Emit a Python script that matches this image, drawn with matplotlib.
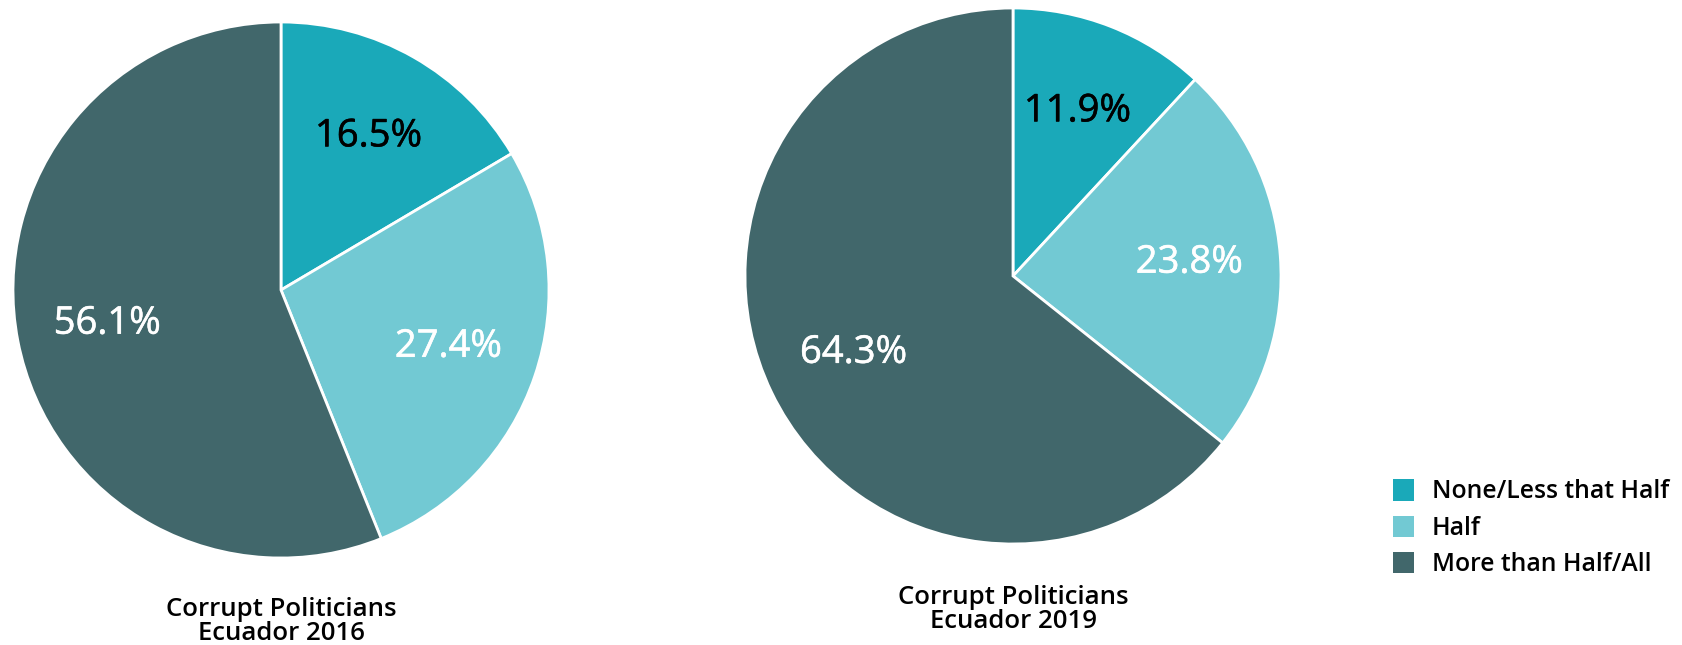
import matplotlib
matplotlib.use("Agg")
import matplotlib.pyplot as plt
import matplotlib.patheffects as pe
from matplotlib.patches import Patch

plt.rcParams['font.family'] = ['Open Sans', 'DejaVu Sans']

# Share of respondents by how many politicians they think are corrupt
categories = ['None/Less that Half', 'Half', 'More than Half/All']
values_2016 = [16.5, 27.4, 56.1]
values_2019 = [11.9, 23.8, 64.3]
titles = ['Corrupt Politicians\nEcuador 2016', 'Corrupt Politicians\nEcuador 2019']

colors = ['#1aa9b9', '#72c9d3', '#41676b']
label_colors = ['black', 'white', 'white']

W, H = 1682, 645
fig = plt.figure(figsize=(W / 100, H / 100), dpi=100)


def draw_pie(values, title, cx, cy, r, title_y):
    # cx, cy, r in pixels (y from the top)
    ax = fig.add_axes([(cx - r) / W, (H - cy - r) / H, 2 * r / W, 2 * r / H])
    wedges, texts, autotexts = ax.pie(
        values, colors=colors, startangle=90, counterclock=False,
        autopct='%1.1f%%', pctdistance=0.66,
        wedgeprops=dict(edgecolor='white', linewidth=2),
    )
    for t, c in zip(autotexts, label_colors):
        t.set_color(c)
        t.set_fontsize(27.5)
        # slightly heavier than the regular weight
        t.set_path_effects([pe.withStroke(linewidth=0.4, foreground=c)])
    ax.set_xlim(-1, 1)
    ax.set_ylim(-1, 1)
    ax.set_aspect('equal')
    fig.text(cx / W, 1 - title_y / H, title, ha='center', va='top',
             fontsize=18.5, fontweight='semibold', linespacing=0.95)
    return ax


draw_pie(values_2016, titles[0], 281, 290, 268, 597)
draw_pie(values_2019, titles[1], 1013, 276, 268, 585)

handles = [Patch(facecolor=c, edgecolor='none') for c in colors]
fig.legend(handles, categories, loc='upper left',
           bbox_to_anchor=(1371 / W, 1 - 457 / H), frameon=False,
           handlelength=0.85, handleheight=0.95,
           handletextpad=0.7, labelspacing=0.45,
           prop={'weight': 'semibold', 'size': 17.8})

fig.savefig('out.png', dpi=100, facecolor='white')
